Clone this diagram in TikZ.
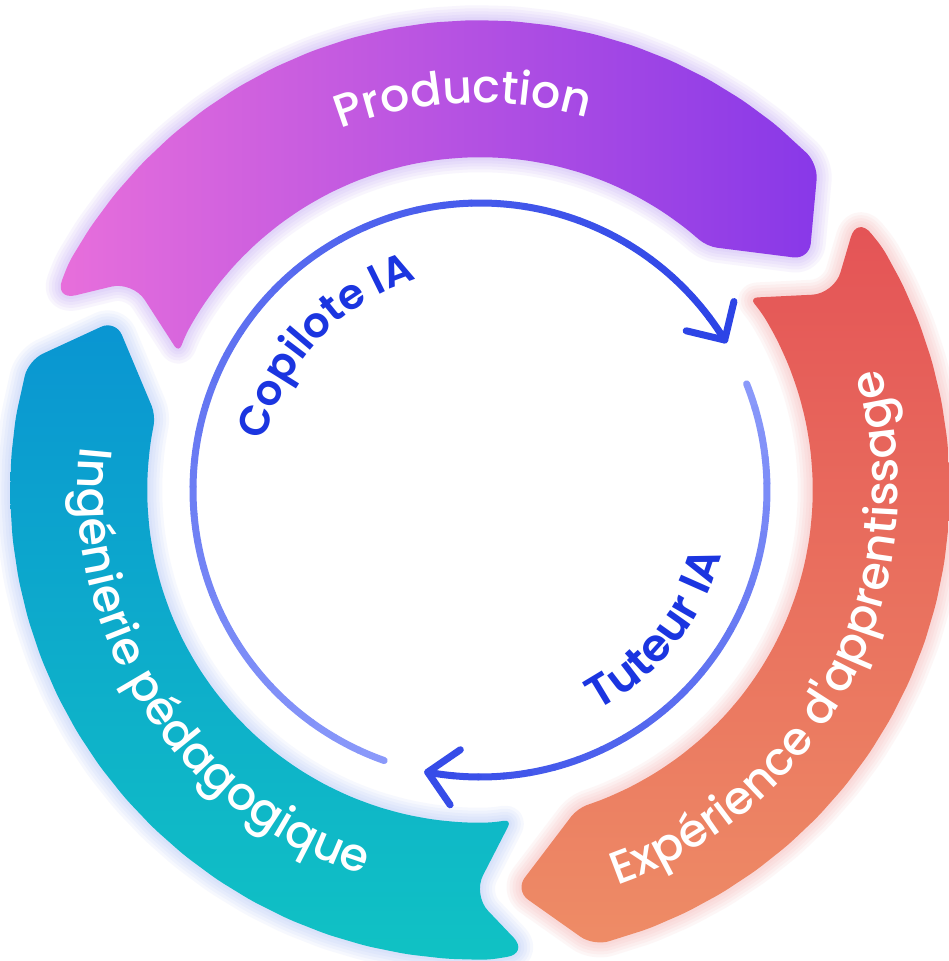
\documentclass[tikz,border=0pt]{standalone}
\usepackage{fontspec}
\setmainfont{Poppins}
\newfontfamily\bandfont{Poppins Medium}
\newfontfamily\labelfont{Poppins SemiBold}
\usetikzlibrary{decorations.text}
\definecolor{prodL}{HTML}{E86FDB}
\definecolor{prodR}{HTML}{8838E8}
\definecolor{expT}{HTML}{E45356}
\definecolor{expB}{HTML}{EE8C66}
\definecolor{ingT}{HTML}{0A95D2}
\definecolor{ingB}{HTML}{10C2C4}
\definecolor{prodglow}{HTML}{A57CF0}
\definecolor{expglow}{HTML}{F08A8A}
\definecolor{ingglow}{HTML}{8AA8F5}
\definecolor{arcdark}{HTML}{2D44E6}
\definecolor{arclight}{HTML}{8A99FA}
\definecolor{iablue}{HTML}{1B35E0}
\newcommand\bandlook{\bandfont\fontsize{46}{50}\selectfont\color{white}}
\newcommand\ialook{\labelfont\fontsize{42}{46}\selectfont\color{iablue}}
\newcommand\tutlook{\labelfont\fontsize{45}{49}\selectfont\color{iablue}}
% one ribbon, turned by #1 degrees
\newcommand\bandpath[1]{({156+#1}:466) [rounded corners=9]
  \foreach \a in {151,146,...,51} { -- ({\a+#1}:470) }
  [rounded corners=16] -- ({44+#1}:470) -- ({35+#1}:402)
  [rounded corners=10] -- ({47+#1}:333)
  \foreach \a in {52,57,...,152} { -- ({\a+#1}:333) }
  [rounded corners=8] -- ({155.5+#1}:331)
  [rounded corners=22] -- ({149+#1}:405) -- cycle}
\tikzset{
	glow/.style={line width=#1, line join=round, opacity=0.07},
	arcline/.style={line width=7, line cap=round, line join=round},
	bandtext/.style={decorate, decoration={text along path, text align=center, text={|\bandlook|#1}}},
	iatext/.style={decorate, decoration={text along path, text align=center, text={|\ialook|#1}}},
	tuttext/.style={decorate, decoration={text along path, text align=center, text={|\tutlook|#1}}},
	}
\begin{document}
\begin{tikzpicture}[x=1pt,y=1pt]
\useasboundingbox[fill=white] (-480,-471) rectangle (469,490);
% glow round the three ribbons
\foreach \w in {30,24,18,12,6} {
  \draw[glow=\w, prodglow] \bandpath{0};
  \draw[glow=\w, expglow] \bandpath{-120};
  \draw[glow=\w, ingglow] \bandpath{120};
}
\shade[left color=prodL, right color=prodR] \bandpath{0};
\shade[top color=expT, bottom color=expB] \bandpath{-120};
\shade[top color=ingT, bottom color=ingB] \bandpath{120};

\path[bandtext=Production] (135:387) arc[start angle=135, end angle=50, radius=387pt];
\path[bandtext={Ingénierie pédagogique}] (151.5:402) arc[start angle=151.5, end angle=275.5, radius=402pt];
\path[bandtext={Expérience d'apprentissage}] (-92:418) arc[start angle=-92, end angle=38, radius=418pt];

% inner cycle
\coordinate (cop-start) at (250.5:287);
\coordinate (cop-tip) at (31.5:287);
\coordinate (tut-start) at (21.7:287);
\coordinate (tut-tip) at (-100.5:287);
\foreach \i in {1,...,40} {
  \pgfmathsetmacro\aa{250.5-(\i-1)*219/40}
  \pgfmathsetmacro\bb{250.5-\i*219/40}
  \pgfmathsetmacro\p{100*(\i-1)/39}
  \draw[arcline, arcdark!\p!arclight] (\aa:287) arc[start angle=\aa, end angle=\bb, radius=287pt];
}
\foreach \i in {1,...,24} {
  \pgfmathsetmacro\aa{21.7-(\i-1)*122.2/24}
  \pgfmathsetmacro\bb{21.7-\i*122.2/24}
  \pgfmathsetmacro\p{90*(\i-1)/23}
  \draw[arcline, arcdark!\p!arclight] (\aa:287) arc[start angle=\aa, end angle=\bb, radius=287pt];
}
\begin{scope}[shift={(cop-tip)}, rotate=31.5]
  \draw[arcline, arcdark] (-28,28) -- (0,0) -- (28,28);
\end{scope}
\begin{scope}[shift={(tut-tip)}, rotate=-100.5]
  \draw[arcline, arcdark!90!arclight] (-28,28) -- (0,0) -- (28,28);
\end{scope}

\path[iatext={Copilote IA}] (180:220) arc[start angle=180, end angle=94, radius=220pt];
\path[tuttext={Tuteur IA}] (-80:250) arc[start angle=-80, end angle=3, radius=250pt];
\end{tikzpicture}
\end{document}
